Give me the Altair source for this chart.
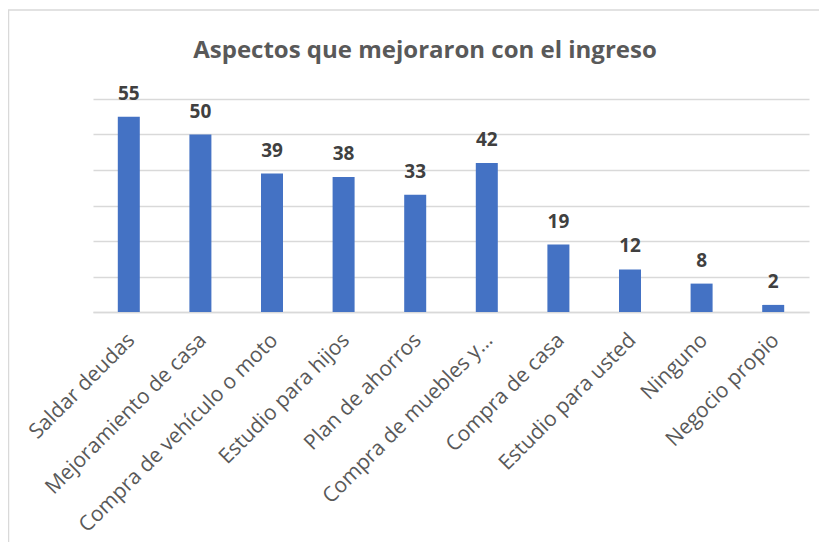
import altair as alt
import pandas as pd

categories = ["Saldar deudas", "Mejoramiento de casa", "Compra de vehículo o moto",
              "Estudio para hijos", "Plan de ahorros", "Compra de muebles y…",
              "Compra de casa", "Estudio para usted", "Ninguno", "Negocio propio"]
values = [55, 50, 39, 38, 33, 42, 19, 12, 8, 2]

df = pd.DataFrame({"cat": categories, "val": values})

W, H = 716, 213
PL, PT = 85, 91

x = alt.X("cat:N", sort=categories, title=None,
          scale=alt.Scale(paddingInner=0, paddingOuter=0),
          axis=alt.Axis(labelAngle=-45, labelAlign="right", labelBaseline="top",
                        labelFont="Open Sans", labelFontSize=21, labelColor="#595959",
                        labelPadding=17, labelOffset=-5, ticks=False, domain=True,
                        domainColor="#d9d9d9", domainWidth=1.5, labelLimit=400, grid=False))
y = alt.Y("val:Q", title=None, scale=alt.Scale(domain=[0, 60], nice=False),
          axis=alt.Axis(values=[0, 10, 20, 30, 40, 50, 60], labels=False, ticks=False,
                        domain=False, grid=True, gridColor="#d9d9d9", gridWidth=1.5))

frame = alt.Chart(pd.DataFrame({"a": [0]})).mark_rect(
    fillOpacity=0, stroke="#d9d9d9", strokeWidth=1.5
).encode(x=alt.value(-PL + 0.5), x2=alt.value(W + 200), y=alt.value(-PT + 2), y2=alt.value(H + 400))

bars = alt.Chart(df).mark_bar(size=22, color="#4472C4").encode(x=x, y=y)
labels = alt.Chart(df).mark_text(
    font="Open Sans", fontSize=19, fontWeight="bold", color="#404040",
    baseline="alphabetic", dy=-17
).encode(x=x, y=y, text="val:Q")

chart = alt.layer(frame, bars, labels).properties(
    width=W, height=H,
    autosize=alt.AutoSizeParams(type="none"),
    padding={"left": PL, "top": PT, "right": 811 - PL - W, "bottom": 534 - PT - H},
    title=alt.TitleParams("Aspectos que mejoraron con el ingreso", font="Open Sans",
                          fontSize=24, fontWeight="bold", color="#595959",
                          anchor="middle", frame="group", dx=-26, offset=0, dy=73,
                          baseline="alphabetic")
).configure_view(stroke=None)

chart.save("out.html", embed_options={"renderer": "svg", "actions": False})
